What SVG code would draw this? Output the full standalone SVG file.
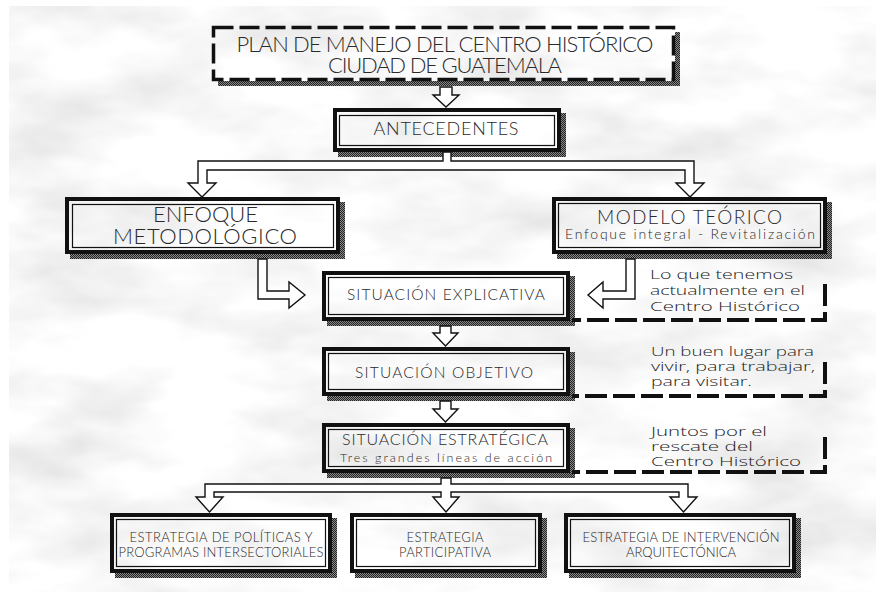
<svg xmlns="http://www.w3.org/2000/svg" width="883" height="599" viewBox="0 0 883 599">
<defs>
  <filter id="marble" x="0" y="0" width="100%" height="100%">
    <feTurbulence type="fractalNoise" baseFrequency="0.007 0.016" numOctaves="4" seed="7" result="n"/>
    <feColorMatrix in="n" type="matrix" values="-0.5 0 0 0 1.2  -0.5 0 0 0 1.2  -0.5 0 0 0 1.2  0 0 0 0 1"/>
  </filter>
  <pattern id="hatch" width="2" height="2" patternUnits="userSpaceOnUse">
    <rect width="2" height="2" fill="#8a8a8a"/>
    <rect width="1" height="1" fill="#222"/>
    <rect x="1" y="1" width="1" height="1" fill="#222"/>
  </pattern>
  <style>
    .box{fill:none;stroke:#111;stroke-width:4}
    .inner{fill:none;stroke:#111;stroke-width:1.2}
    .shadow{fill:url(#hatch)}
    .dash{fill:none;stroke:#111;stroke-width:4;stroke-dasharray:22 6}
    .arrow{fill:#fff;stroke:#111;stroke-width:1.4;stroke-linejoin:miter}
    .t{font-family:Lato,"Liberation Sans",sans-serif;font-weight:300;fill:#2a2a2a;text-anchor:middle}
    .n{font-family:"Open Sans","Liberation Sans",sans-serif;font-weight:300;fill:#222;font-size:13.5px}
  </style>
</defs>
<rect width="883" height="599" fill="#fff"/>
<rect x="9" y="6" width="867" height="586" filter="url(#marble)"/>

<g id="plan">
  <polygon class="shadow" points="218,81 675,81 675,32 680,32 680,86 218,86"/>
  <rect x="213.5" y="27.5" width="460" height="52" fill="none" stroke="#111" stroke-width="3.5" stroke-dasharray="20 6"/>
  <text class="t" x="445" y="52" font-size="22" textLength="417">PLAN DE MANEJO DEL CENTRO HISTÓRICO</text>
  <text class="t" x="445" y="73" font-size="22" textLength="234">CIUDAD DE GUATEMALA</text>
</g>

<g id="antecedentes">
  <polygon class="shadow" points="338,152 561,152 561,113 566,113 566,157 338,157"/>
  <rect class="box" x="335" y="110" width="224" height="40"/>
  <rect class="inner" x="339.5" y="115.5" width="215" height="30"/>
  <text class="t" x="446" y="135" font-size="18" textLength="145">ANTECEDENTES</text>
</g>

<g id="enfoque">
  <polygon class="shadow" points="70,254 340,254 340,202 345,202 345,259 70,259"/>
  <rect class="box" x="67" y="199" width="271" height="53"/>
  <rect class="inner" x="72.5" y="204.5" width="261" height="43"/>
  <text class="t" x="205.5" y="222" font-size="22" textLength="105">ENFOQUE</text>
  <text class="t" x="205" y="244" font-size="22" textLength="184">METODOLÓGICO</text>
</g>

<g id="modelo">
  <polygon class="shadow" points="557,254 827,254 827,202 832,202 832,259 557,259"/>
  <rect class="box" x="554" y="199" width="271" height="53"/>
  <rect class="inner" x="558.5" y="203.5" width="262" height="44"/>
  <text class="t" x="689.5" y="224" font-size="19" textLength="185">MODELO TEÓRICO</text>
  <text class="t" x="690" y="239" font-size="14" textLength="250">Enfoque integral - Revitalización</text>
</g>

<g id="explicativa">
  <polygon class="shadow" points="327,321 570,321 570,276 575,276 575,326 327,326"/>
  <rect class="box" x="324" y="273" width="244" height="46"/>
  <rect class="inner" x="328.5" y="277.5" width="235" height="37"/>
  <text class="t" x="446" y="300" font-size="15.5" textLength="198">SITUACIÓN EXPLICATIVA</text>
</g>

<g id="objetivo">
  <polygon class="shadow" points="327,396 570,396 570,352 575,352 575,401 327,401"/>
  <rect class="box" x="324" y="349" width="244" height="45"/>
  <rect class="inner" x="328.5" y="353.5" width="235" height="36"/>
  <text class="t" x="444" y="378" font-size="15.5" textLength="178">SITUACIÓN OBJETIVO</text>
</g>

<g id="estrategica">
  <polygon class="shadow" points="327,473 570,473 570,428 575,428 575,478 327,478"/>
  <rect class="box" x="324" y="425" width="244" height="46"/>
  <rect class="inner" x="328.5" y="429.5" width="235" height="37"/>
  <text class="t" x="445" y="445" font-size="16" textLength="206">SITUACIÓN ESTRATÉGICA</text>
  <text class="t" x="446" y="462" font-size="12.5" textLength="212">Tres grandes líneas de acción</text>
</g>

<g id="politicas">
  <polygon class="shadow" points="115,573 332,573 332,518 337,518 337,578 115,578"/>
  <rect class="box" x="112" y="515" width="218" height="56"/>
  <rect class="inner" x="116.5" y="519.5" width="209" height="47"/>
  <text class="t" x="221" y="542" font-size="13" textLength="183">ESTRATEGIA DE POLÍTICAS Y</text>
  <text class="t" x="221" y="557" font-size="13" textLength="205">PROGRAMAS INTERSECTORIALES</text>
</g>

<g id="participativa">
  <polygon class="shadow" points="355,573 542,573 542,518 547,518 547,578 355,578"/>
  <rect class="box" x="352" y="515" width="188" height="56"/>
  <rect class="inner" x="356.5" y="519.5" width="179" height="47"/>
  <text class="t" x="445" y="542" font-size="13" textLength="77">ESTRATEGIA</text>
  <text class="t" x="445" y="557" font-size="13" textLength="92">PARTICIPATIVA</text>
</g>

<g id="arquitectonica">
  <polygon class="shadow" points="569,573 796,573 796,518 801,518 801,578 569,578"/>
  <rect class="box" x="566" y="515" width="228" height="56"/>
  <rect class="inner" x="570.5" y="519.5" width="219" height="47"/>
  <text class="t" x="681" y="542" font-size="13" textLength="197">ESTRATEGIA DE INTERVENCIÓN</text>
  <text class="t" x="681" y="557" font-size="13" textLength="110">ARQUITECTÓNICA</text>
</g>

<g id="nota-explicativa">
  <text class="n" x="650" y="279" textLength="143" lengthAdjust="spacingAndGlyphs">Lo que tenemos</text>
  <text class="n" x="650" y="295" textLength="155" lengthAdjust="spacingAndGlyphs">actualmente en el</text>
  <text class="n" x="650" y="311" textLength="150" lengthAdjust="spacingAndGlyphs">Centro Histórico</text>
</g>
<g id="nota-objetivo">
  <text class="n" x="651" y="356" textLength="163" lengthAdjust="spacingAndGlyphs">Un buen lugar para</text>
  <text class="n" x="651" y="371" textLength="164" lengthAdjust="spacingAndGlyphs">vivir, para trabajar,</text>
  <text class="n" x="651" y="386" textLength="101" lengthAdjust="spacingAndGlyphs">para visitar.</text>
</g>
<g id="nota-estrategica">
  <text class="n" x="651" y="436" textLength="116" lengthAdjust="spacingAndGlyphs">Juntos por el</text>
  <text class="n" x="651" y="451" textLength="102" lengthAdjust="spacingAndGlyphs">rescate del</text>
  <text class="n" x="651" y="466" textLength="150" lengthAdjust="spacingAndGlyphs">Centro Histórico</text>
</g>

<g id="connectors">
  <path class="dash" d="M825,284 V320 H572"/>
  <path class="dash" d="M825,362 V396 H572"/>
  <path class="dash" d="M825,437 V472 H572"/>
  <polygon class="arrow" points="440,87 452,87 452,95 459,95 446,107 433,95 440,95"/>
  <polygon class="arrow" points="443,152 451,152 451,161 694,161 694,183 704,183 690,197 676,183 685,183 685,170 207,170 207,183 216,183 202,197 188,183 198,183 198,161 443,161"/>
  <polygon class="arrow" points="258,259 267,259 267,291 289,291 289,282 305,295 289,308 289,299 258,299"/>
  <polygon class="arrow" points="626,259 635,259 635,299 603,299 603,308 588,295 603,282 603,291 626,291"/>
  <polygon class="arrow" points="440,326 451,326 451,333 458,333 445.5,346 433,333 440,333"/>
  <polygon class="arrow" points="440,401 451,401 451,409 458,409 445.5,422 433,409 440,409"/>
  <polygon class="arrow" points="441,478 451,478 451,484 688,484 688,497 697,497 683.5,512 670,497 679,497 679,492 451,492 451,497 459,497 446,512 433,497 441,497 441,492 214,492 214,497 223,497 209.5,512 196,497 205,497 205,484 441,484"/>
</g>
</svg>
